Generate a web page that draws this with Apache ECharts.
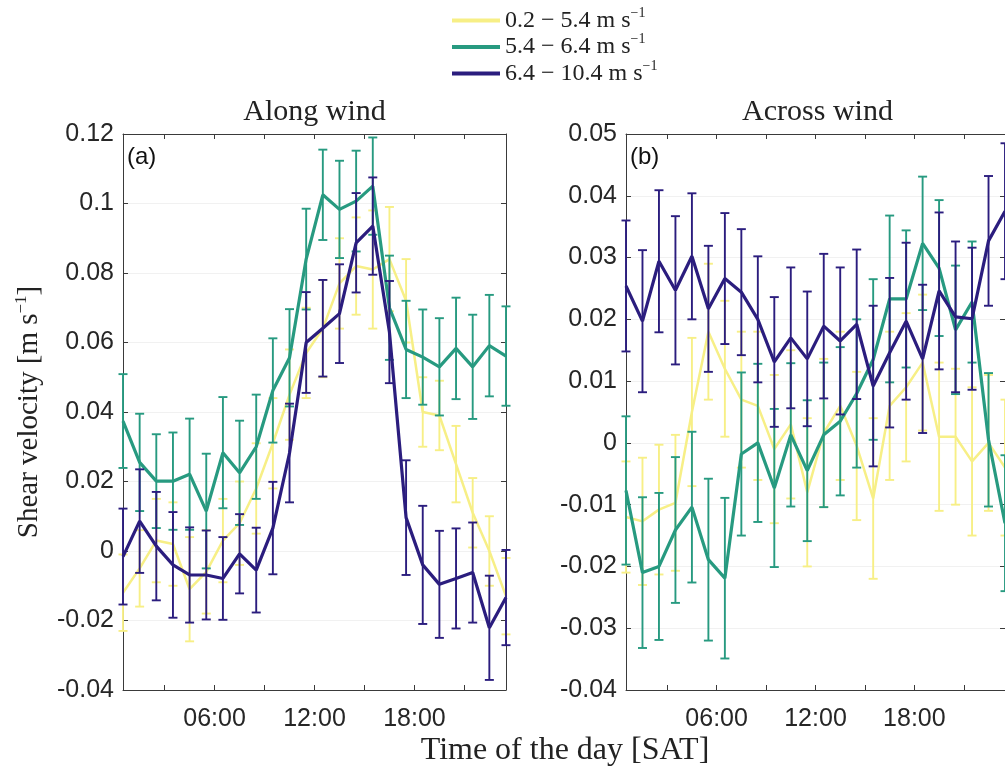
<!DOCTYPE html>
<html><head><meta charset="utf-8">
<script src="https://cdn.jsdelivr.net/npm/echarts@6/dist/echarts.min.js"></script>
<style>html,body{margin:0;padding:0;background:#fff}#c{width:1005px;height:771px}</style>
</head><body><div id="c"></div>
<script>
// ---- data ----
const hours = [0.5,1.5,2.5,3.5,4.5,5.5,6.5,7.5,8.5,9.5,10.5,11.5,12.5,13.5,14.5,15.5,16.5,17.5,18.5,19.5,20.5,21.5,22.5,23.5];
const xTickValues = [3,6,9,12,15,18,21];
const xLabelValues = [6,12,18];
const seriesNames = ['0.2 − 5.4', '5.4 − 6.4', '6.4 − 10.4'];
const panelTitles = ['Along wind', 'Across wind'];
const panelTags = ['(a)', '(b)'];

const alongYellow = [-0.012,-0.005,0.003,0.002,-0.011,-0.006,0.003,0.008,0.018,0.031,0.045,0.057,0.064,0.077,0.082,0.081,0.084,0.072,0.040,0.039,0.025,0.011,0.000,-0.013];
const alongYellowErr = [0.011,0.011,0.012,0.012,0.015,0.012,0.012,0.012,0.013,0.013,0.013,0.013,0.014,0.013,0.014,0.017,0.015,0.012,0.010,0.010,0.011,0.010,0.010,0.011];
const alongTeal = [0.0374,0.0255,0.0201,0.0201,0.0221,0.0115,0.0283,0.0225,0.0300,0.0462,0.0556,0.0840,0.1025,0.0983,0.1007,0.1050,0.0700,0.0580,0.0558,0.0530,0.0583,0.0530,0.0591,0.0561];
const alongTealErr = [0.0135,0.014,0.0135,0.014,0.016,0.0165,0.016,0.015,0.015,0.015,0.014,0.0145,0.013,0.014,0.0145,0.014,0.015,0.014,0.0137,0.014,0.0146,0.015,0.0146,0.0143];
const alongBlue = [-0.0016,0.0086,0.0014,-0.0040,-0.0069,-0.0069,-0.0079,-0.0008,-0.0055,0.0066,0.0282,0.0600,0.0641,0.0683,0.0887,0.0935,0.0630,0.0096,-0.0040,-0.0096,-0.0079,-0.0062,-0.0221,-0.0134];
const alongBlueErr = [0.0138,0.0149,0.0156,0.0152,0.0137,0.0128,0.0119,0.0114,0.0122,0.0133,0.0142,0.0145,0.0139,0.0142,0.0143,0.014,0.0147,0.0165,0.017,0.0154,0.0144,0.0144,0.015,0.0137];

const acrossYellow = [-0.012,-0.0127,-0.0108,-0.0097,0.005,0.018,0.012,0.007,0.006,-0.001,0.003,-0.008,0.0016,0.006,-0.0005,-0.009,0.006,0.009,0.013,0.001,0.001,-0.003,0.000,-0.004];
const acrossYellowErr = [0.009,0.0103,0.0105,0.011,0.012,0.011,0.011,0.011,0.012,0.012,0.012,0.012,0.012,0.012,0.012,0.013,0.012,0.012,0.011,0.012,0.011,0.012,0.011,0.011];
const acrossTeal = [-0.0077,-0.021,-0.020,-0.0141,-0.0104,-0.0189,-0.0219,-0.0018,0.000,-0.0073,0.0013,-0.0045,0.0013,0.0035,0.008,0.0135,0.0233,0.0233,0.0323,0.0283,0.0183,0.0228,0.0005,-0.013];
const acrossTealErr = [0.012,0.0122,0.0119,0.0118,0.0122,0.0131,0.013,0.0132,0.0128,0.0128,0.0116,0.0114,0.0117,0.012,0.012,0.013,0.0135,0.0111,0.0108,0.011,0.0104,0.0098,0.0108,0.011];
const acrossBlue = [0.0254,0.0197,0.0294,0.0247,0.0302,0.0217,0.0266,0.0244,0.020,0.0131,0.017,0.0136,0.0189,0.0165,0.0192,0.0092,0.0146,0.0197,0.0136,0.0246,0.0204,0.0201,0.0327,0.0375];
const acrossBlueErr = [0.0106,0.0115,0.0115,0.012,0.0102,0.0102,0.0106,0.0102,0.0102,0.0105,0.0114,0.0109,0.0117,0.0119,0.0121,0.013,0.0121,0.0127,0.012,0.0127,0.0122,0.0115,0.0105,0.011];

// ---- styling ----
const colors = ['#f7ef86', '#279a80', '#2b1d7e'];
const lineWidths = [2.5, 3.2, 3.2];
const axisColor = '#3a3a3a';
const tickFont = {fontFamily: 'Liberation Sans, Arial, sans-serif', fontSize: 25, color: '#262626'};
const serif = 'Liberation Serif, Times New Roman, serif';

const panels = [
  {vals: [alongYellow, alongTeal, alongBlue], errs: [alongYellowErr, alongTealErr, alongBlueErr], min: -0.04, max: 0.12, interval: 0.02, left: 123},
  {vals: [acrossYellow, acrossTeal, acrossBlue], errs: [acrossYellowErr, acrossTealErr, acrossBlueErr], min: -0.04, max: 0.05, interval: 0.01, left: 626}
];

const fmtY = v => parseFloat(v.toFixed(3)).toString();
const fmtX = v => (v < 10 ? '0' : '') + Math.round(v) + ':00';

function errRender(params, api) {
  const x = api.value(0), lo = api.value(1), hi = api.value(2);
  const p1 = api.coord([x, hi]), p2 = api.coord([x, lo]);
  const hw = 4.5;
  const style = {stroke: api.visual('color'), lineWidth: 1.9};
  return {type: 'group', children: [
    {type: 'line', shape: {x1: p1[0], y1: p1[1], x2: p2[0], y2: p2[1]}, style},
    {type: 'line', shape: {x1: p1[0]-hw, y1: p1[1], x2: p1[0]+hw, y2: p1[1]}, style},
    {type: 'line', shape: {x1: p2[0]-hw, y1: p2[1], x2: p2[0]+hw, y2: p2[1]}, style}
  ]};
}

const grids = [], xAxes = [], yAxes = [], series = [];
panels.forEach((p, gi) => {
  grids.push({left: p.left, top: 134, width: 383, height: 556, show: false});
  const xBase = {gridIndex: gi, type: 'value', min: 0.5, max: 23.5,
    axisLine: {show: true, onZero: false, lineStyle: {color: axisColor, width: 1}},
    axisTick: {show: true, inside: true, length: 5, customValues: xTickValues, lineStyle: {color: axisColor}},
    splitLine: {show: false}};
  xAxes.push(Object.assign({}, xBase, {position: 'bottom',
    axisLabel: {show: true, customValues: xLabelValues, formatter: fmtX, margin: 17, ...tickFont}}));
  xAxes.push(Object.assign({}, xBase, {position: 'top', axisLabel: {show: false}}));
  const yBase = {gridIndex: gi, type: 'value', min: p.min, max: p.max, interval: p.interval,
    axisLine: {show: true, onZero: false, lineStyle: {color: axisColor, width: 1}},
    axisTick: {show: true, inside: true, length: 5, lineStyle: {color: axisColor}}};
  yAxes.push(Object.assign({}, yBase, {position: 'left',
    axisLabel: {show: true, formatter: fmtY, margin: 9, ...tickFont},
    splitLine: {show: true, lineStyle: {color: '#f1f1f1', width: 1}},
    name: gi === 0 ? '{n|Shear velocity [m s}{s|−1}{n|]}' : '', nameLocation: 'middle', nameGap: 78,
    nameTextStyle: {fontFamily: serif, fontSize: 29, color: '#222',
      rich: {n: {fontFamily: serif, fontSize: 29, color: '#222', lineHeight: 32},
             s: {fontFamily: serif, fontSize: 17, color: '#222', lineHeight: 32, verticalAlign: 'top', padding: [0,0,14,0]}}}}));
  yAxes.push(Object.assign({}, yBase, {position: 'right', axisLabel: {show: false}, splitLine: {show: false}}));

  for (let s = 0; s < 3; s++) {
    const v = p.vals[s], e = p.errs[s];
    series.push({
      type: 'custom', name: seriesNames[s], xAxisIndex: gi*2, yAxisIndex: gi*2,
      renderItem: errRender, itemStyle: {color: colors[s]}, z: 2 + s*2,
      encode: {x: 0, y: [1, 2]}, clip: false, silent: true,
      data: hours.map((h, i) => [h, v[i] - e[i], v[i] + e[i]])
    });
    series.push({
      type: 'line', name: seriesNames[s], xAxisIndex: gi*2, yAxisIndex: gi*2,
      symbol: 'none', z: 3 + s*2, clip: false,
      lineStyle: {color: colors[s], width: lineWidths[s]}, itemStyle: {color: colors[s]},
      data: hours.map((h, i) => [h, v[i]])
    });
  }
});

const graphics = [];
panels.forEach((p, gi) => {
  graphics.push({type: 'text', x: p.left + 191.5, y: 112, style: {text: panelTitles[gi], font: '30px ' + serif, fill: '#222', textAlign: 'center', textVerticalAlign: 'middle'}});
  graphics.push({type: 'text', x: p.left + 4, y: 157, style: {text: panelTags[gi], font: '24px Liberation Sans, Arial, sans-serif', fill: '#111', textAlign: 'left', textVerticalAlign: 'middle'}});
});
graphics.push({type: 'text', x: 565, y: 751, style: {text: 'Time of the day [SAT]', font: '32px ' + serif, fill: '#222', textAlign: 'center', textVerticalAlign: 'middle'}});

const option = {
  backgroundColor: '#fff',
  animation: false,
  grid: grids, xAxis: xAxes, yAxis: yAxes, series: series,
  legend: {
    data: seriesNames, orient: 'vertical', left: 447, top: 1, icon: 'rect',
    itemWidth: 48, itemHeight: 4, itemGap: 0,
    formatter: n => '{n|' + n + ' m s}{s|−1}',
    textStyle: {fontFamily: serif, fontSize: 24, color: '#222',
      rich: {n: {fontFamily: serif, fontSize: 24, color: '#222', lineHeight: 29},
             s: {fontFamily: serif, fontSize: 14, color: '#222', lineHeight: 29, verticalAlign: 'top', padding: [0,0,12,0]}}}
  },
  graphic: graphics
};
const chart = echarts.init(document.getElementById('c'), null, {renderer: 'canvas'});
chart.setOption(option);
</script></body></html>
